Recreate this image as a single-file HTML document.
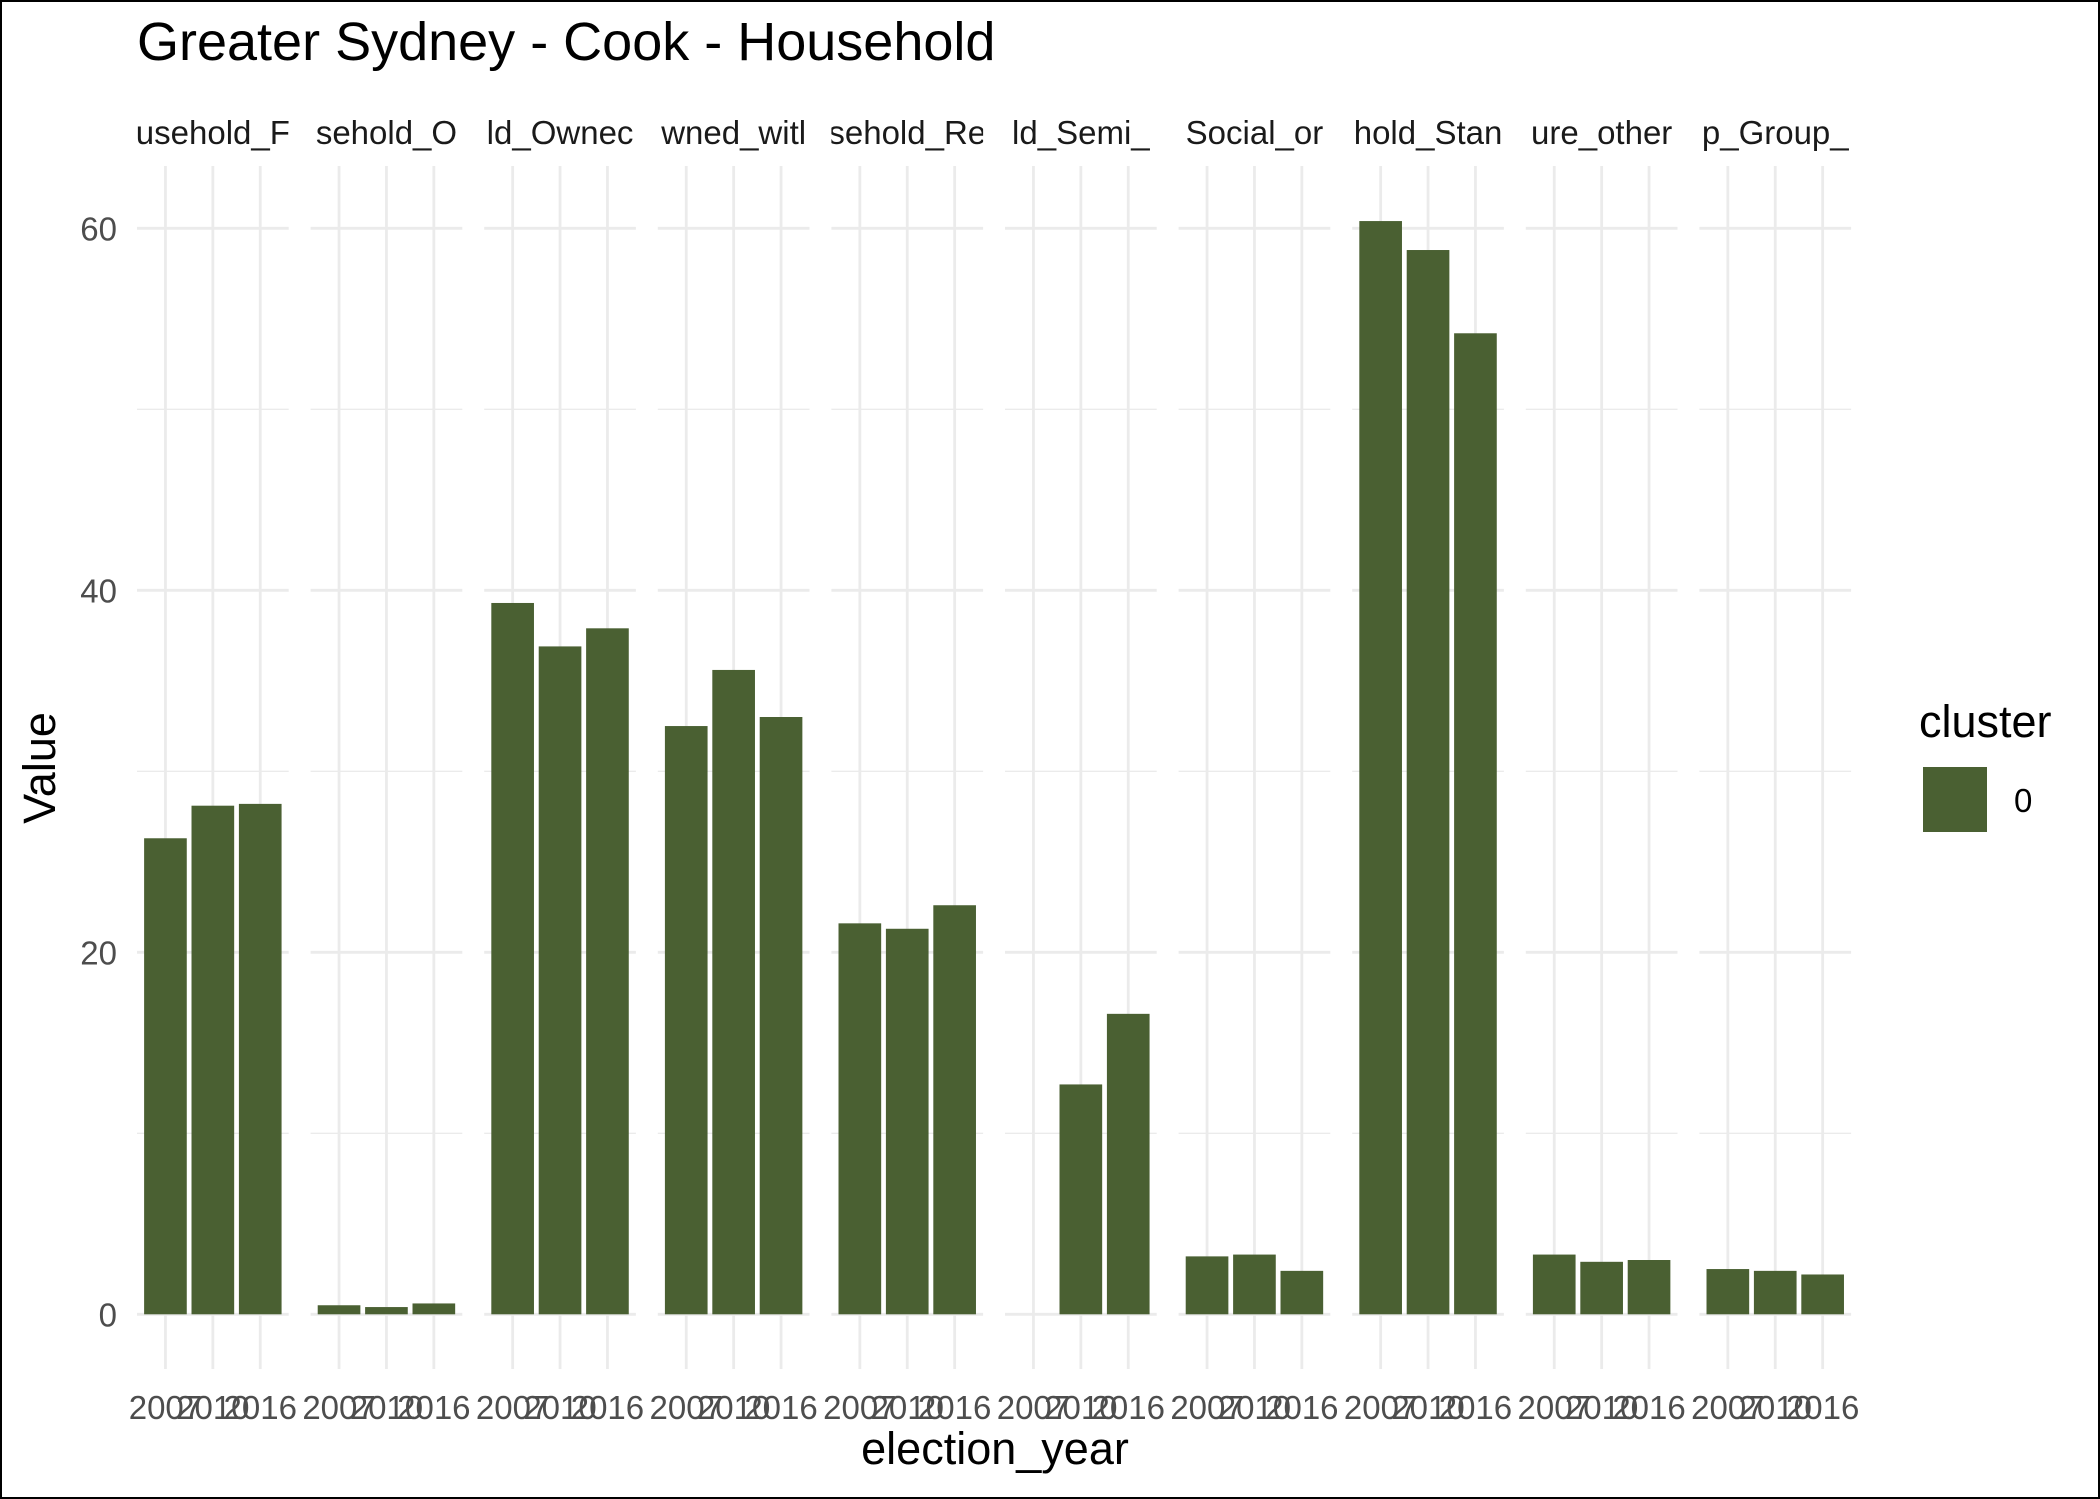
<!DOCTYPE html>
<html><head><meta charset="utf-8"><style>
html,body{margin:0;padding:0;background:#fff}
svg{display:block;font-family:"Liberation Sans",Arial,sans-serif}
</style></head><body>
<svg id="chart" width="2100" height="1499" viewBox="0 0 2100 1499">
<defs id="defs"></defs>
<rect x="1" y="1" width="2098" height="1497" fill="#fff" stroke="#000" stroke-width="2"/>
<text x="137" y="60" font-size="54" fill="#000">Greater Sydney - Cook - Household</text>
<g id="panels"></g>
<text x="995" y="1464" font-size="45" text-anchor="middle" fill="#000">election_year</text>
<text transform="translate(55,768) rotate(-90)" font-size="45" text-anchor="middle" fill="#000">Value</text>
<g>
<text x="1919" y="737" font-size="45" fill="#000">cluster</text>
<rect x="1923" y="767" width="64" height="65" fill="#4a6032"/>
<text x="2014" y="812" font-size="33" fill="#000">0</text>
</g>
</svg>
<script>
const categories = ["usehold_F","sehold_O","ld_Ownec","wned_witl","sehold_Re","ld_Semi_","Social_or","hold_Stan","ure_other","p_Group_"];
const years = ["2007","2010","2016"];
const v2007 = [26.3,0.5,39.3,32.5,21.6,null,3.2,60.4,3.3,2.5];
const v2010 = [28.1,0.4,36.9,35.6,21.3,12.7,3.3,58.8,2.9,2.4];
const v2016 = [28.2,0.6,37.9,33.0,22.6,16.6,2.4,54.2,3.0,2.2];
const yTicks = [0,20,40,60];
const yMinor = [10,30,50];

const NS="http://www.w3.org/2000/svg";
const g=document.getElementById('panels');
const defs=document.getElementById('defs');
const y0=1314.3, yUnit=18.1;
const yS=v=>y0-v*yUnit;
const panelLeft=i=>137+i*173.6, step=47.4, panelW=151.7;
const xC=(i,k)=>panelLeft(i)+0.6*step+k*step;
const plotTop=166, plotBot=1369;
function mk(tag,attrs,parent){const e=document.createElementNS(NS,tag);for(const k in attrs)e.setAttribute(k,attrs[k]);(parent||g).appendChild(e);return e;}
const series=[v2007,v2010,v2016];
yTicks.forEach(t=>{
  const tl=mk('text',{x:117,y:yS(t)+12,'font-size':33,'text-anchor':'end',fill:'#4d4d4d'});
  
  
  tl.textContent=t;
});
categories.forEach((c,i)=>{
  const L=panelLeft(i);
  const cp=mk('clipPath',{id:'clip'+i},defs);
  mk('rect',{x:L,y:100,width:panelW,height:60},cp);
  const pg=mk('g',{});
  
  
  yMinor.forEach(t=>{const l=mk('line',{x1:L,x2:L+panelW,y1:yS(t),y2:yS(t),stroke:'#ebebeb','stroke-width':1.4},pg);
    
    });
  yTicks.forEach(t=>{const l=mk('line',{x1:L,x2:L+panelW,y1:yS(t),y2:yS(t),stroke:'#ebebeb','stroke-width':2.8},pg);
    
    });
  years.forEach((yr,k)=>{
    const x=xC(i,k);
    const l=mk('line',{x1:x,x2:x,y1:plotTop,y2:plotBot,stroke:'#ebebeb','stroke-width':2.8},pg);
    
    
    const t=mk('text',{x:x,y:1419,'font-size':33,'text-anchor':'middle',fill:'#4d4d4d'},pg);
    
    
    t.textContent=yr;
  });
  years.forEach((yr,k)=>{
    const v=series[k][i];
    if(v==null)return;
    const x=xC(i,k), w=step*0.9;
    const b=mk('rect',{x:x-w/2,y:yS(v),width:w,height:y0-yS(v),fill:'#4a6032'},pg);
    
    
  });
  const s=mk('text',{x:L+panelW/2,y:144,'font-size':33,'text-anchor':'middle',fill:'#1a1a1a','clip-path':'url(#clip'+i+')'},pg);
  
  
  s.textContent=c;
});
</script>
</body></html>
